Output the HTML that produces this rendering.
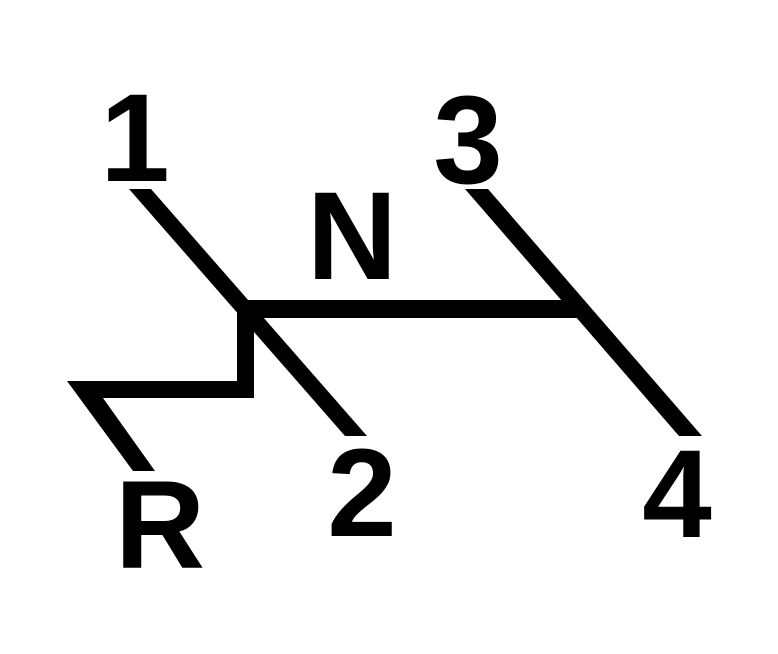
<!DOCTYPE html>
<html>
<head>
<meta charset="utf-8">
<style>
  html,body{margin:0;padding:0;background:#fff;}
  svg{display:block;}
  text{font-family:"Liberation Sans",Arial,sans-serif;font-weight:bold;font-size:125px;fill:#000;}
</style>
</head>
<body>
<svg width="778" height="654" viewBox="0 0 778 654">
  <!-- diagonal 1 to 2 -->
  <polygon points="129,189 151,189 367,436 345,436" fill="#000"/>
  <!-- diagonal 3 to 4 -->
  <polygon points="465,189 488,189 702,436 679,436" fill="#000"/>
  <!-- neutral bar -->
  <polygon points="237,300 582,300 582,318 237,318" fill="#000"/>
  <!-- reverse path -->
  <polygon points="237,308 254,308 254,398 103,398 155,471 133,471 67,381 237,381" fill="#000"/>

  <text x="135" y="181" text-anchor="middle">1</text>
  <text x="468" y="183" text-anchor="middle">3</text>
  <text x="352" y="279" text-anchor="middle">N</text>
  <text x="362" y="536" text-anchor="middle">2</text>
  <text x="677" y="537" text-anchor="middle">4</text>
  <text x="160" y="568" text-anchor="middle">R</text>
</svg>
</body>
</html>
